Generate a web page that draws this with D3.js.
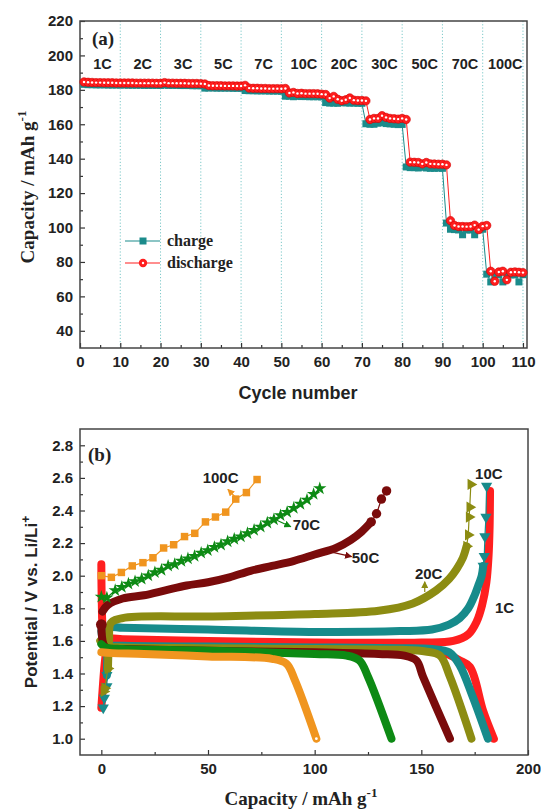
<!DOCTYPE html>
<html>
<head>
<meta charset="utf-8">
<title>Rate capability</title>
<script src="https://d3js.org/d3.v7.min.js"></script>
<style>
	body { margin: 0; background: #fff; }
	.tick text { font-family: Arial, "Liberation Sans", sans-serif; font-weight: bold; font-size: 15px; fill: #222; }
	.tick line { stroke: #333; stroke-width: 1.2; }
	.domain { display: none; }
	.lbl { font-family: Arial, "Liberation Sans", sans-serif; font-weight: bold; fill: #222; }
	.serif { font-family: "Liberation Serif", "Times New Roman", serif; font-weight: bold; fill: #222; }
</style>
</head>
<body>
<script>
// ---------- data, panel (a) ----------
var rates = ['1C', '2C', '3C', '5C', '7C', '10C', '20C', '30C', '50C', '70C', '100C'];
var cycleTicks = [0, 10, 20, 30, 40, 50, 60, 70, 80, 90, 100, 110];
var cycleMinor = [5, 15, 25, 35, 45, 55, 65, 75, 85, 95, 105];
var capTicks = [40, 60, 80, 100, 120, 140, 160, 180, 200, 220];
var capMinor = [50, 70, 90, 110, 130, 150, 170, 190, 210];

// capacity per cycle, cycles 1..110
var charge = [
	183.2, 183.0, 183.0, 182.9, 182.9, 182.9, 182.8, 182.8, 182.8, 182.8,
	182.8, 182.7, 182.7, 182.7, 182.7, 182.6, 182.6, 182.6, 182.6, 182.6,
	182.8, 182.6, 182.6, 182.6, 182.5, 182.5, 182.5, 182.4, 182.4, 182.4,
	181.0, 181.1, 181.1, 181.0, 181.0, 181.0, 181.0, 180.9, 180.9, 180.9,
	179.6, 179.5, 179.5, 179.4, 179.4, 179.4, 179.3, 179.3, 179.3, 179.2,
	176.3, 176.3, 176.0, 176.2, 176.1, 176.1, 176.0, 176.0, 176.0, 175.9,
	172.6, 172.3, 172.3, 172.2, 172.6, 172.4, 172.3, 172.3, 172.2, 172.2,
	160.3, 160.0, 160.0, 160.6, 161.0, 160.4, 160.2, 160.0, 159.8, 159.9,
	135.2, 134.8, 134.8, 134.6, 135.0, 134.6, 134.4, 134.4, 134.5, 134.4,
	102.6, 99.0, 98.8, 98.6, 95.8, 98.6, 98.6, 95.8, 98.6, 99.0,
	72.9, 68.4, 72.6, 72.6, 68.4, 72.6, 72.5, 72.5, 68.4, 72.6
];
var discharge = [
	184.6, 184.4, 184.3, 184.2, 184.2, 184.1, 184.1, 184.1, 184.0, 184.0,
	184.0, 184.0, 184.0, 183.9, 183.9, 183.9, 183.9, 183.9, 183.8, 183.8,
	184.2, 183.9, 183.9, 183.8, 183.8, 183.8, 183.7, 183.7, 183.7, 183.6,
	183.4, 182.5, 182.4, 182.4, 182.4, 182.3, 182.3, 182.3, 182.2, 182.2,
	182.6, 181.0, 180.9, 180.9, 180.8, 180.8, 180.7, 180.7, 180.7, 180.6,
	180.8, 178.2, 178.5, 177.9, 178.0, 177.8, 177.8, 177.8, 177.7, 177.5,
	177.3, 175.2, 176.2, 174.5, 173.7, 174.2, 175.3, 174.0, 173.8, 173.8,
	173.6, 162.8, 163.4, 163.4, 165.0, 164.0, 163.4, 163.2, 163.0, 163.4,
	162.8, 138.0, 137.9, 137.8, 137.0, 137.8, 137.0, 136.9, 136.8, 136.8,
	136.4, 104.0, 101.2, 100.6, 100.6, 100.5, 100.6, 101.4, 98.8, 100.8,
	101.2, 74.6, 68.8, 74.2, 74.6, 69.6, 74.0, 74.2, 74.0, 73.8
];

// ---------- data, panel (b): [capacity, potential] ----------
var qTicks = [0, 50, 100, 150, 200];
var qMinor = [25, 75, 125, 175];
var vTicks = [1.0, 1.2, 1.4, 1.6, 1.8, 2.0, 2.2, 2.4, 2.6, 2.8];
var vMinor = [1.1, 1.3, 1.5, 1.7, 1.9, 2.1, 2.3, 2.5, 2.7];

var c1Charge = [[0, 1.19], [0.6, 1.3], [1.5, 1.45], [2.6, 1.56], [4, 1.61], [10, 1.61], [50, 1.6], [100, 1.59], [150, 1.59], [165, 1.6], [172, 1.64], [176, 1.72], [178.5, 1.82], [180.5, 1.96], [181.5, 2.12], [182, 2.3], [182.2, 2.52]];
var c1Discharge = [[0, 2.07], [0.2, 1.85], [0.8, 1.66], [2.5, 1.585], [6, 1.575], [50, 1.565], [100, 1.56], [140, 1.555], [155, 1.545], [163, 1.515], [168, 1.48], [172.8, 1.44], [179, 1.17], [184, 1.0]];

var c10ChargeLow = [[0.9, 1.19], [1.4, 1.25], [2.6, 1.32], [2.6, 1.39]];
var c10Charge = [[2.6, 1.39], [2.8, 1.5], [3.0, 1.62], [3.8, 1.68], [10, 1.68], [50, 1.67], [100, 1.655], [140, 1.66], [155, 1.67], [163, 1.7], [168, 1.74], [172, 1.8], [175, 1.88], [177, 1.95], [178.3, 2.0], [179, 2.06]];
var c10ChargeTop = [[179, 2.06], [179.5, 2.12], [179.8, 2.24], [180.3, 2.36], [180.6, 2.55]];
var c10Discharge = [[0, 1.66], [1, 1.6], [3, 1.575], [10, 1.57], [50, 1.565], [100, 1.56], [140, 1.555], [155, 1.55], [163, 1.53], [168, 1.45], [174, 1.26], [181.2, 1.0]];

var c20ChargeLow = [[1.2, 1.29], [1.6, 1.31], [3.1, 1.43]];
var c20Charge = [[3.1, 1.43], [3.6, 1.6], [4.5, 1.71], [10, 1.74], [50, 1.75], [100, 1.765], [130, 1.785], [146, 1.83], [157, 1.91], [163, 1.98], [166.5, 2.04], [169.5, 2.11], [171.2, 2.18]];
var c20ChargeTop = [[171.2, 2.18], [172, 2.25], [172.4, 2.36], [172.7, 2.42], [173.2, 2.56]];
var c20Discharge = [[-0.5, 1.6], [1, 1.58], [3, 1.565], [10, 1.56], [50, 1.555], [100, 1.55], [140, 1.545], [152, 1.535], [158.7, 1.51], [163.4, 1.38], [173.5, 1.0]];

var c50Charge = [[0.5, 1.78], [3, 1.82], [10, 1.86], [20, 1.88], [30, 1.91], [40, 1.94], [50, 1.96], [60, 1.99], [70, 2.03], [80, 2.06], [90, 2.09], [100, 2.13], [110, 2.17], [117, 2.22], [122, 2.27], [126.5, 2.33]];
var c50ChargeTop = [[126.5, 2.33], [129, 2.38], [131.3, 2.47], [133.7, 2.52]];
var c50Discharge = [[0, 1.70], [1, 1.58], [3, 1.55], [10, 1.55], [50, 1.54], [100, 1.53], [130, 1.52], [142, 1.51], [147.7, 1.48], [150.8, 1.38], [163.4, 1.0]];

var c70Charge = [[0, 1.87], [2.6, 1.865], [6.5, 1.91], [9.6, 1.93], [12.7, 1.95], [15.8, 1.965], [18.9, 1.98], [22, 2.0], [25.1, 2.02], [28.2, 2.035], [31.3, 2.06], [34.4, 2.07], [37.5, 2.09], [40.6, 2.105], [43.7, 2.12], [46.8, 2.14], [49.9, 2.155], [53, 2.175], [56.1, 2.19], [59.2, 2.21], [62.3, 2.225], [65.4, 2.24], [68.5, 2.26], [71.6, 2.28], [74.7, 2.30], [77.8, 2.325], [80.9, 2.345], [84, 2.37], [87.1, 2.39], [90.2, 2.415], [93.3, 2.44], [96.4, 2.465], [99.5, 2.50], [102.4, 2.535]];
var c70Discharge = [[0, 1.58], [2, 1.56], [10, 1.55], [50, 1.54], [100, 1.52], [115, 1.51], [121, 1.48], [125, 1.38], [136, 1.0]];

var c100Charge = [[0, 2.0], [4.7, 1.99], [9.4, 2.02], [14.5, 2.06], [19.5, 2.08], [24.2, 2.11], [29.2, 2.17], [33.9, 2.19], [39, 2.24], [43.8, 2.26], [48.8, 2.33], [53.5, 2.36], [58.3, 2.39], [63, 2.47], [68, 2.51], [73, 2.59]];
var c100Discharge = [[0, 1.53], [5, 1.525], [20, 1.52], [50, 1.505], [80, 1.49], [86.8, 1.46], [90.7, 1.36], [100.8, 1.0]];

// curve labels [text, capacity, potential] and arrows [from, to]
var curveLabels = [['100C', 47.5, 2.57], ['70C', 89.7, 2.278], ['50C', 117.4, 2.076], ['20C', 147, 1.98], ['10C', 175.2, 2.595], ['1C', 184.5, 1.77]];
var arrows = [[[63, 2.48], [59.3, 2.53]], [[79, 2.36], [88.8, 2.30]], [[107, 2.148], [117.3, 2.117]], [[151.6, 1.90], [151.6, 1.963]]];

var colors = {c1: '#ff1f1f', c10: '#178b8b', c20: '#8c8c12', c50: '#7a0b0b', c70: '#0d8a14', c100: '#f0951f',
	charge: '#1b8b8b', discharge: '#ff1e1e'};

// ---------- svg ----------
var w = 541, h = 810;
var svg = d3.select('body').append('svg').attr('width', w).attr('height', h);

// ========== panel (a) ==========
var A = {left: 80, right: 527, top: 21, bottom: 348};
var xA = d3.scaleLinear().domain([0, 111]).range([A.left, A.right]);
var yA = d3.scaleLinear().domain([30, 220]).range([A.bottom, A.top]);
var gA = svg.append('g');

// dotted separators between rates
gA.selectAll('line.grid').data(cycleTicks.slice(1)).enter().append('line')
	.attr('x1', function(d) { return xA(d); }).attr('x2', function(d) { return xA(d); })
	.attr('y1', A.top).attr('y2', A.bottom)
	.attr('stroke', '#7cc8c8').attr('stroke-width', 1).attr('stroke-dasharray', '1.2,2');

gA.append('g').attr('transform', 'translate(0,' + A.bottom + ')')
	.call(d3.axisBottom(xA).tickValues(cycleTicks).tickSize(-5).tickPadding(8).tickFormat(d3.format('d')));
gA.append('g').attr('transform', 'translate(0,' + A.bottom + ')')
	.call(d3.axisBottom(xA).tickValues(cycleMinor).tickSize(-3).tickFormat(''));
gA.append('g').attr('transform', 'translate(' + A.left + ',0)')
	.call(d3.axisLeft(yA).tickValues(capTicks).tickSize(-5).tickPadding(7).tickFormat(d3.format('d')));
gA.append('g').attr('transform', 'translate(' + A.left + ',0)')
	.call(d3.axisLeft(yA).tickValues(capMinor).tickSize(-3).tickFormat(''));

gA.append('rect').attr('x', A.left).attr('y', A.top).attr('width', A.right - A.left).attr('height', A.bottom - A.top)
	.attr('fill', 'none').attr('stroke', '#444').attr('stroke-width', 1.5);

// rate labels
gA.selectAll('text.rate').data(rates).enter().append('text').attr('class', 'lbl')
	.attr('x', function(d, i) { return xA(i * 10 + 5.6); }).attr('y', 69)
	.attr('text-anchor', 'middle').attr('font-size', 14.5).text(function(d) { return d; });

var lineA = d3.line().x(function(d, i) { return xA(i + 1); }).y(function(d) { return yA(d); });

// charge
gA.append('path').datum(charge).attr('d', lineA).attr('fill', 'none').attr('stroke', colors.charge).attr('stroke-width', 1);
gA.selectAll('rect.chg').data(charge).enter().append('rect')
	.attr('x', function(d, i) { return xA(i + 1) - 3.5; }).attr('y', function(d) { return yA(d) - 3.5; })
	.attr('width', 7).attr('height', 7).attr('fill', colors.charge);

// discharge
gA.append('path').datum(discharge).attr('d', lineA).attr('fill', 'none').attr('stroke', colors.discharge).attr('stroke-width', 1);
gA.selectAll('circle.dis').data(discharge).enter().append('circle')
	.attr('cx', function(d, i) { return xA(i + 1); }).attr('cy', function(d) { return yA(d); })
	.attr('r', 4.2).attr('fill', colors.discharge).attr('stroke', '#d40000').attr('stroke-width', 0.6);
gA.selectAll('circle.dot').data(discharge).enter().append('circle')
	.attr('cx', function(d, i) { return xA(i + 1); }).attr('cy', function(d) { return yA(d); })
	.attr('r', 1.2).attr('fill', '#fff');

// legend
var leg = gA.append('g');
leg.append('line').attr('x1', 125).attr('x2', 160).attr('y1', 241).attr('y2', 241).attr('stroke', colors.charge).attr('stroke-width', 1.2);
leg.append('rect').attr('x', 139.5).attr('y', 237.5).attr('width', 7).attr('height', 7).attr('fill', colors.charge);
leg.append('text').attr('class', 'serif').attr('x', 167).attr('y', 246).attr('font-size', 16).text('charge');
leg.append('line').attr('x1', 125).attr('x2', 160).attr('y1', 263).attr('y2', 263).attr('stroke', colors.discharge).attr('stroke-width', 1.2);
leg.append('circle').attr('cx', 143).attr('cy', 263).attr('r', 4.2).attr('fill', colors.discharge);
leg.append('circle').attr('cx', 143).attr('cy', 263).attr('r', 1.2).attr('fill', '#fff');
leg.append('text').attr('class', 'serif').attr('x', 167).attr('y', 268).attr('font-size', 16).text('discharge');

gA.append('text').attr('class', 'serif').attr('x', 92).attr('y', 45).attr('font-size', 19).attr('font-weight', 'normal').text('(a)');

// axis titles
var tA = gA.append('text').attr('class', 'serif').attr('font-size', 19).attr('text-anchor', 'middle')
	.attr('transform', 'translate(34,187)rotate(-90)');
tA.append('tspan').text('Capacity / mAh g');
tA.append('tspan').attr('dy', -8).attr('font-size', 13).text('-1');
gA.append('text').attr('class', 'lbl').attr('x', 298).attr('y', 399).attr('text-anchor', 'middle').attr('font-size', 18).text('Cycle number');

// ========== panel (b) ==========
var B = {left: 80, right: 528, top: 429, bottom: 755};
var xB = d3.scaleLinear().domain([-10, 200]).range([B.left, B.right]);
var yB = d3.scaleLinear().domain([0.9, 2.9]).range([B.bottom, B.top]);
var gB = svg.append('g');

gB.append('g').attr('transform', 'translate(0,' + B.bottom + ')')
	.call(d3.axisBottom(xB).tickValues(qTicks).tickSize(-5).tickPadding(8).tickFormat(d3.format('d')));
gB.append('g').attr('transform', 'translate(0,' + B.bottom + ')')
	.call(d3.axisBottom(xB).tickValues(qMinor).tickSize(-3).tickFormat(''));
gB.append('g').attr('transform', 'translate(' + B.left + ',0)')
	.call(d3.axisLeft(yB).tickValues(vTicks).tickSize(-5).tickPadding(7).tickFormat(d3.format('.1f')));
gB.append('g').attr('transform', 'translate(' + B.left + ',0)')
	.call(d3.axisLeft(yB).tickValues(vMinor).tickSize(-3).tickFormat(''));

gB.append('rect').attr('x', B.left).attr('y', B.top).attr('width', B.right - B.left).attr('height', B.bottom - B.top)
	.attr('fill', 'none').attr('stroke', '#444').attr('stroke-width', 1.5);

var lineB = d3.line().curve(d3.curveCatmullRom.alpha(0.5))
	.x(function(d) { return xB(d[0]); }).y(function(d) { return yB(d[1]); });
var thinB = d3.line().x(function(d) { return xB(d[0]); }).y(function(d) { return yB(d[1]); });

function thick(pts, col) {
	gB.append('path').datum(pts).attr('d', lineB).attr('fill', 'none').attr('stroke', col)
		.attr('stroke-width', 8).attr('stroke-linecap', 'round').attr('stroke-linejoin', 'round');
}
function thin(pts, col) {
	gB.append('path').datum(pts).attr('d', thinB).attr('fill', 'none').attr('stroke', col).attr('stroke-width', 1.2);
}
function marks(pts, col, type, size, rot) {
	gB.selectAll(null).data(pts).enter().append('path')
		.attr('d', d3.symbol().type(type).size(size))
		.attr('transform', function(d) { return 'translate(' + xB(d[0]) + ',' + yB(d[1]) + ')rotate(' + rot + ')'; })
		.attr('fill', col);
}

// 1C
thick(c1Discharge, colors.c1);
thick(c1Charge, colors.c1);
// 10C
thick(c10Discharge, colors.c10);
thick(c10Charge, colors.c10);
thin(c10ChargeTop, colors.c10); marks(c10ChargeTop, colors.c10, d3.symbolTriangle, 55, 180);
thin(c10ChargeLow, colors.c10); marks(c10ChargeLow, colors.c10, d3.symbolTriangle, 55, 180);
// 20C
thick(c20Discharge, colors.c20);
thick(c20Charge, colors.c20);
thin(c20ChargeTop, colors.c20); marks(c20ChargeTop, colors.c20, d3.symbolTriangle, 55, 90);
thin(c20ChargeLow, colors.c20); marks(c20ChargeLow, colors.c20, d3.symbolTriangle, 55, 90);
// 50C
thick(c50Discharge, colors.c50);
thick(c50Charge, colors.c50);
thin(c50ChargeTop, colors.c50); marks(c50ChargeTop, colors.c50, d3.symbolCircle, 70, 0);
marks(c50Discharge.slice(0, 1), colors.c50, d3.symbolCircle, 90, 0);
// 70C
thick(c70Discharge, colors.c70);
thin(c70Charge, colors.c70); marks(c70Charge, colors.c70, d3.symbolStar, 55, 0);
// 100C
thick(c100Discharge, colors.c100);
thin(c100Charge, colors.c100); marks(c100Charge, colors.c100, d3.symbolSquare, 56, 0);
marks(c100Discharge.slice(-1), '#fff', d3.symbolCircle, 6, 0);

// arrows
var arrowCols = [colors.c100, colors.c70, colors.c50, colors.c20];
var defs = svg.append('defs');
arrowCols.forEach(function(c, i) {
	defs.append('marker').attr('id', 'ah' + i).attr('viewBox', '0 0 10 10').attr('refX', 9).attr('refY', 5)
		.attr('markerWidth', 6).attr('markerHeight', 6).attr('orient', 'auto')
		.append('path').attr('d', 'M0,0L10,5L0,10z').attr('fill', c);
});
gB.selectAll('line.arrow').data(arrows).enter().append('line')
	.attr('x1', function(d) { return xB(d[0][0]); }).attr('y1', function(d) { return yB(d[0][1]); })
	.attr('x2', function(d) { return xB(d[1][0]); }).attr('y2', function(d) { return yB(d[1][1]); })
	.attr('stroke', function(d, i) { return arrowCols[i]; }).attr('stroke-width', 1.2)
	.attr('marker-end', function(d, i) { return 'url(#ah' + i + ')'; });

gB.selectAll('text.cl').data(curveLabels).enter().append('text').attr('class', 'lbl')
	.attr('x', function(d) { return xB(d[1]); }).attr('y', function(d) { return yB(d[2]); })
	.attr('font-size', 15).text(function(d) { return d[0]; });

gB.append('text').attr('class', 'serif').attr('x', 88).attr('y', 461).attr('font-size', 19).attr('font-weight', 'normal').text('(b)');

var tB = gB.append('text').attr('class', 'lbl').attr('font-size', 17).attr('text-anchor', 'middle')
	.attr('transform', 'translate(37,602)rotate(-90)');
tB.append('tspan').text('Potential / V vs. Li/Li');
tB.append('tspan').attr('dy', -7).attr('font-size', 12).text('+');
var xt = gB.append('text').attr('class', 'serif').attr('x', 301).attr('y', 805).attr('font-size', 19).attr('text-anchor', 'middle');
xt.append('tspan').text('Capacity / mAh g');
xt.append('tspan').attr('dy', -8).attr('font-size', 13).text('-1');
</script>
</body>
</html>
